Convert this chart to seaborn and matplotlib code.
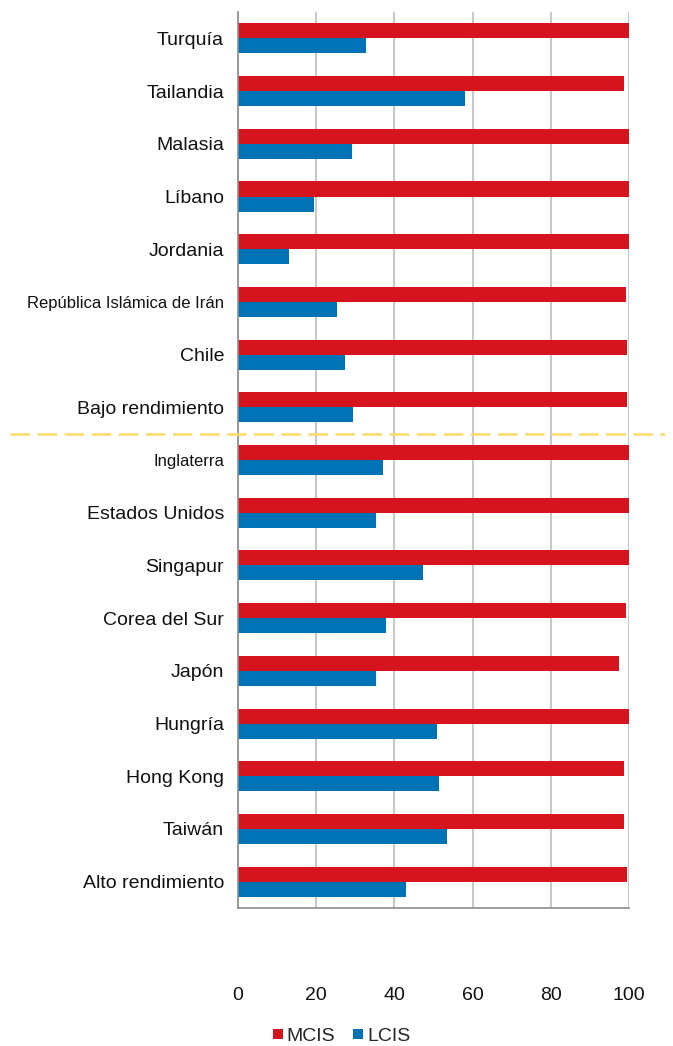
import numpy as np
import pandas as pd
import matplotlib
matplotlib.use('Agg')
import matplotlib.pyplot as plt
from matplotlib.lines import Line2D
import seaborn as sns

# Datos
paises = ['Turquía', 'Tailandia', 'Malasia', 'Líbano', 'Jordania',
          'República Islámica de Irán', 'Chile', 'Bajo rendimiento',
          'Inglaterra', 'Estados Unidos', 'Singapur', 'Corea del Sur',
          'Japón', 'Hungría', 'Hong Kong', 'Taiwán', 'Alto rendimiento']
mcis = [100, 98.7, 100, 100, 100, 99.2, 99.5, 99.5,
        100, 100, 100, 99.2, 97.4, 100, 98.7, 98.7, 99.5]
lcis = [32.7, 58.0, 29.1, 19.4, 13.0, 25.3, 27.3, 29.4,
        37.0, 35.2, 47.3, 37.8, 35.2, 50.9, 51.4, 53.4, 42.9]

series = ['MCIS', 'LCIS']
colores = {'MCIS': '#D6141D', 'LCIS': '#0072B6'}

df = pd.DataFrame({'pais': paises * 2,
                   'valor': mcis + lcis,
                   'serie': ['MCIS'] * len(paises) + ['LCIS'] * len(paises)})

sns.set_style('white')
plt.rcParams['font.family'] = ['Liberation Sans', 'DejaVu Sans']
plt.rcParams['lines.scale_dashes'] = False

fig = plt.figure(figsize=(6.73, 10.46), dpi=100)
ax = fig.add_axes([0.3536, 0.1319, 0.581, 0.8566])

sns.barplot(data=df, x='valor', y='pais', hue='serie', order=paises,
            hue_order=series, palette=colores, orient='h', width=0.57,
            saturation=1, errorbar=None, legend=False, linewidth=0, ax=ax)

ax.set_xlim(0, 100)
ax.set_ylim(len(paises) - 0.5, -0.5)
ax.set_xticks(np.arange(0, 101, 20))
ax.set_xlabel('')
ax.set_ylabel('')
ax.xaxis.grid(True, color='#C8C8C8', linewidth=1.5)
ax.set_axisbelow(True)

for lado in ['top', 'right']:
    ax.spines[lado].set_visible(False)
for lado in ['left', 'bottom']:
    ax.spines[lado].set_color('#8C8C8C')
    ax.spines[lado].set_linewidth(1.2)

ax.tick_params(axis='x', direction='out', length=4, width=1.2, color='#8C8C8C',
               pad=53, labelsize=14, labelcolor='#111111')
ax.tick_params(axis='y', which='major', length=0, pad=10, labelsize=14,
               labelcolor='#111111')
ax.set_yticks(np.arange(-0.5, len(paises), 1), minor=True)
ax.tick_params(axis='y', which='minor', direction='out', length=4, width=1.2,
               color='#8C8C8C')

# etiquetas más estrechas como en el original
for lbl in ax.get_yticklabels():
    if lbl.get_text() in ('República Islámica de Irán', 'Inglaterra'):
        lbl.set_fontsize(12)

# línea separadora
ax.plot([-58.3, 109.2], [7.5, 7.5], color='#FFD966', linewidth=1.8,
        dashes=(14, 5.5), clip_on=False, zorder=5)

handles = [Line2D([0], [0], marker='s', linestyle='', markersize=7,
                  markerfacecolor=colores[s], markeredgewidth=0, label=s)
           for s in series]
fig.legend(handles=handles, loc='center', bbox_to_anchor=(0.507, 0.0095),
           ncol=2, frameon=False, fontsize=14, handlelength=0.6,
           handletextpad=0.15, columnspacing=0.9, borderpad=0)

plt.savefig('out.png', dpi=100)
